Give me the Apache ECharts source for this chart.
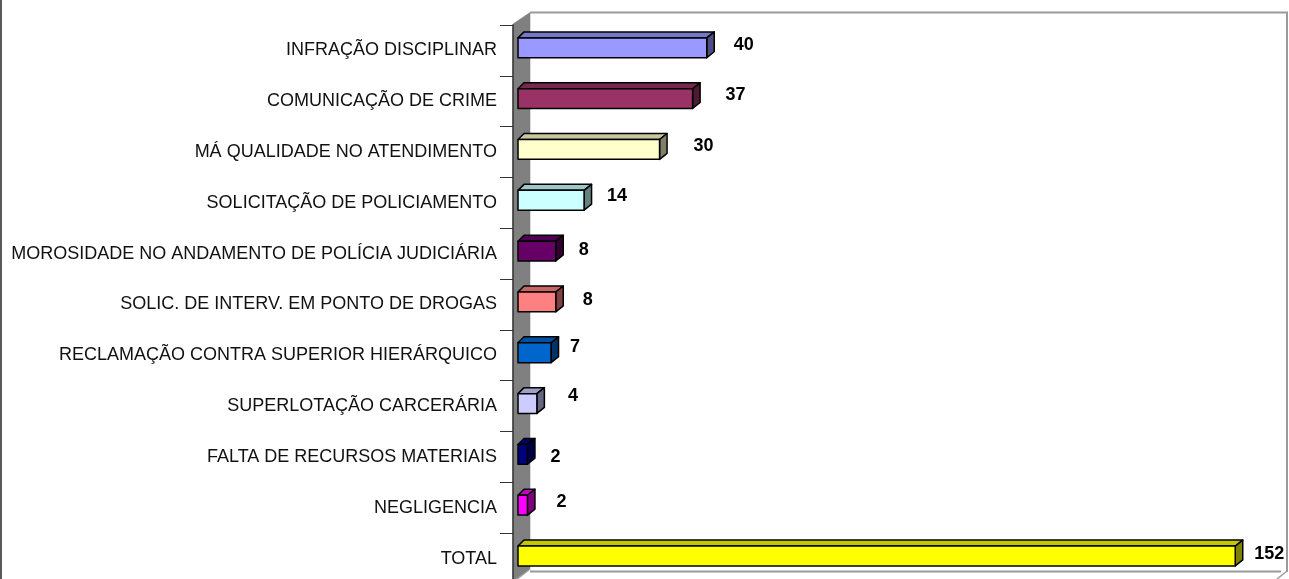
<!DOCTYPE html>
<html><head><meta charset="utf-8">
<style>html,body{margin:0;padding:0;background:#fff;overflow:hidden}#c{width:1289px;height:579px}</style>
<script src="https://cdn.jsdelivr.net/npm/echarts@6/dist/echarts.min.js"></script>
</head><body><div id="c"></div>
<script>
const categories = ["INFRAÇÃO DISCIPLINAR","COMUNICAÇÃO DE CRIME","MÁ QUALIDADE NO ATENDIMENTO","SOLICITAÇÃO DE POLICIAMENTO","MOROSIDADE NO ANDAMENTO DE POLÍCIA JUDICIÁRIA","SOLIC. DE INTERV. EM PONTO DE DROGAS","RECLAMAÇÃO CONTRA SUPERIOR HIERÁRQUICO","SUPERLOTAÇÃO CARCERÁRIA","FALTA DE RECURSOS MATERIAIS","NEGLIGENCIA","TOTAL"];
const values = [40,37,30,14,8,8,7,4,2,2,152];
const colors = ["#9999FF","#993366","#FFFFCC","#CCFFFF","#660066","#FF8080","#0066CC","#CCCCFF","#000080","#FF00FF","#FFFF00"];
// hand-placed label nudges of the original, [dx, dy] from the default label anchor
const labelNudge = [[27,-2.3],[33,-3.4],[34,-3.9],[23,-4.7],[23,-1.2],[27,-2],[19,-5.4],[31,-7.9],[23,2.3],[29,-3.5],[19,-2.3]];

const G = {left:513, top:25, width:760, height:559};
const D = {dx:7.5, dy:6};
const shade = (hex,k)=>{const n=parseInt(hex.slice(1),16);
  const c=[n>>16&255,n>>8&255,n&255].map(v=>Math.round(v*k));return `rgb(${c.join(',')})`;};
const frame = '#9a9a9a';

const chart = echarts.init(document.getElementById('c'),null,{renderer:'canvas'});
chart.setOption({
  animation:false,
  backgroundColor:'#fff',
  graphic:{elements:[
    {type:'line',z:-1,shape:{x1:1,y1:0,x2:1,y2:579},style:{stroke:'#222',lineWidth:1.5}},
    {type:'polygon',z:-1,shape:{points:[[513,24],[530,12.5],[530,569],[513,581]]},style:{fill:'#808080',stroke:'#777',lineWidth:.5}},
    {type:'polyline',z:-1,shape:{points:[[530,12.5],[1287,12.5],[1287,572]]},style:{stroke:frame,fill:null,lineWidth:2}},
    {type:'polyline',z:-1,shape:{points:[[530,571.5],[1281,571.5]]},style:{stroke:frame,fill:null,lineWidth:2}},
    {type:'line',z:-1,shape:{x1:1287,y1:571,x2:1277,y2:579},style:{stroke:frame,lineWidth:1.5}},
    {type:'line',z:-1,shape:{x1:530,y1:569,x2:517,y2:579},style:{stroke:frame,lineWidth:1.5}}
  ]},
  grid:{left:G.left,top:G.top,width:G.width,height:G.height,containLabel:false,outerBoundsMode:'none'},
  xAxis:{type:'value',min:-1.06,max:160,show:false},
  yAxis:{type:'category',inverse:true,data:categories,
    axisLine:{show:true,onZero:false,lineStyle:{color:'#333',width:1.5}},
    axisTick:{show:true,length:13,alignWithLabel:false,lineStyle:{color:'#333',width:1}},
    axisLabel:{color:'#111',fontFamily:'Liberation Sans',fontSize:18,margin:16,interval:0,align:'right',verticalAlign:'middle'},
    splitLine:{show:false}},
  series:[{type:'custom',coordinateSystem:'cartesian2d',clip:false,
    encode:{x:0,y:1},
    data:values.map((v,i)=>[v,i]),
    renderItem(params,api){
      const i=api.value(1), v=api.value(0);
      const end=api.coord([v,i]), start=api.coord([0,i]);
      const band=api.size([0,1])[1];
      const h=band*0.39, cy=end[1]-2.6, t=cy-h/2, b=cy+h/2, x0=start[0], x1=end[0];
      const col=colors[i], line={stroke:'#000',lineWidth:1.5,lineJoin:'round'};
      const n=labelNudge[i];
      return {type:'group',children:[
        {type:'polygon',shape:{points:[[x0,t],[x0+D.dx-1.5,t-D.dy],[x1+D.dx,t-D.dy],[x1,t]]},style:{fill:shade(col,.78),...line}},
        {type:'polygon',shape:{points:[[x1,t],[x1+D.dx,t-D.dy],[x1+D.dx,b-D.dy],[x1,b]]},style:{fill:shade(col,.5),...line}},
        {type:'rect',shape:{x:x0,y:t,width:x1-x0,height:b-t},style:{fill:col,...line}},
        {type:'text',style:{text:String(v),x:x1+n[0],y:cy+n[1],fill:'#000',font:'bold 18px "Liberation Sans"',align:'left',verticalAlign:'middle'}}
      ]};
    }}]
});
</script></body></html>
